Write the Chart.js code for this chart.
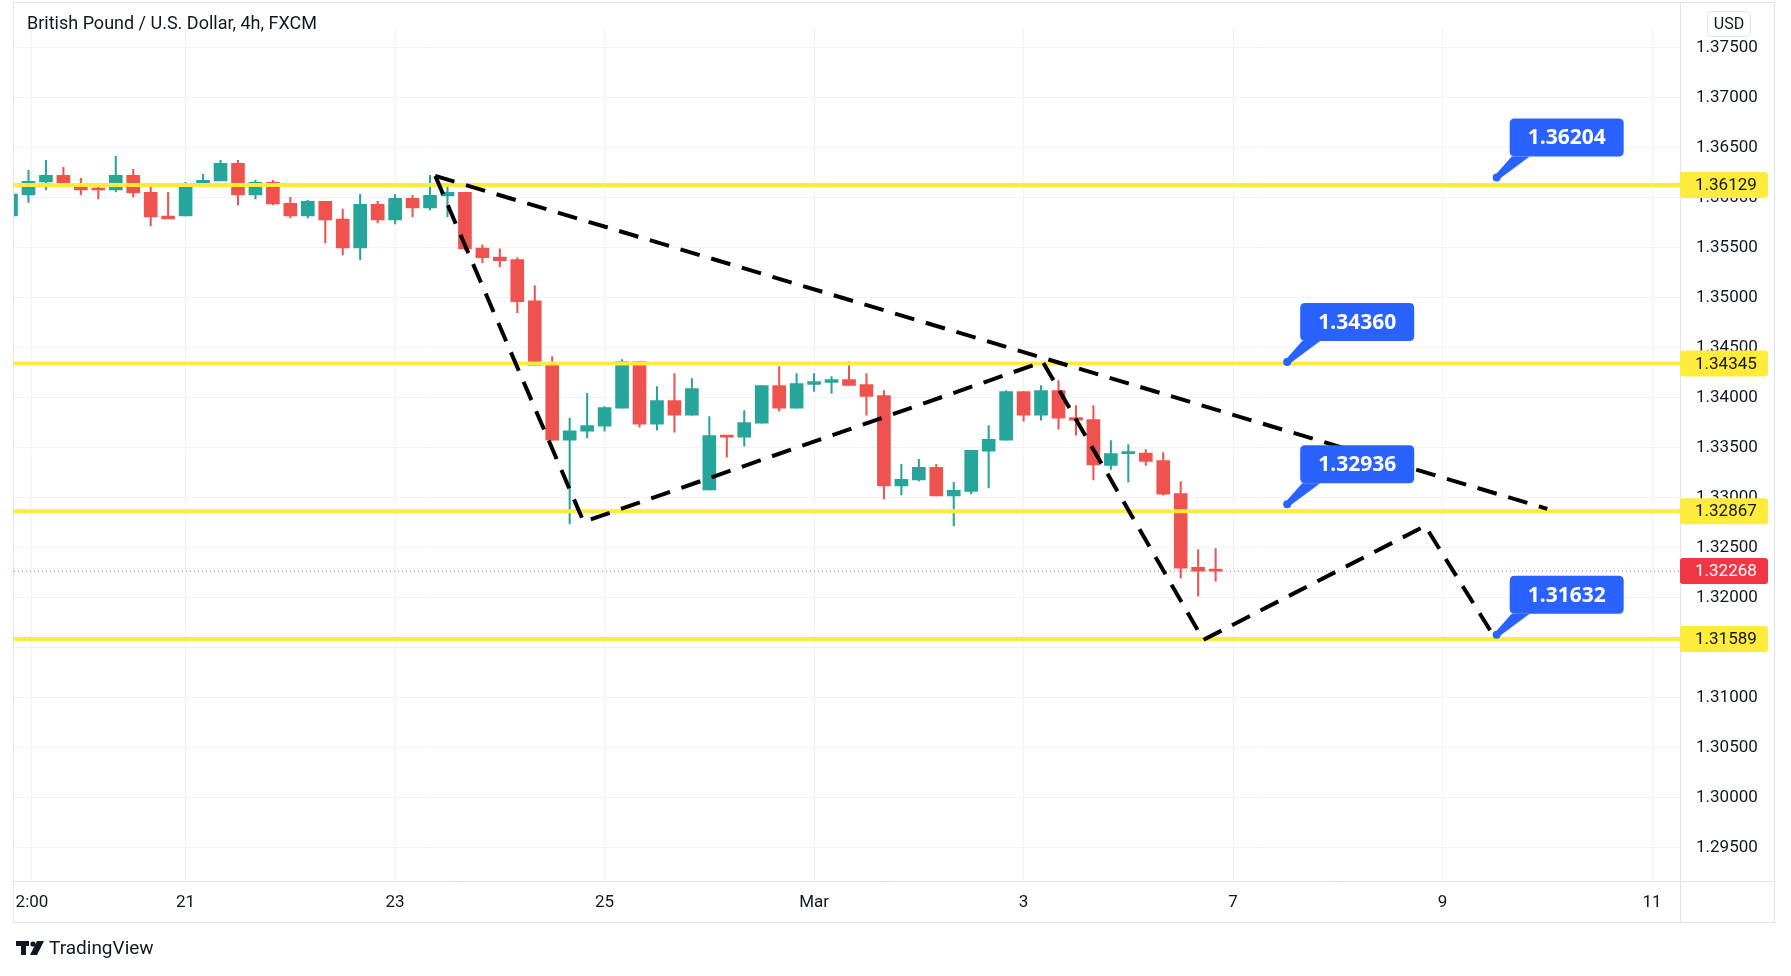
<!DOCTYPE html>
<html>
<head>
<meta charset="utf-8">
<script src="https://cdn.jsdelivr.net/npm/chart.js@4"></script>
<style>
html,body{margin:0;padding:0;background:#fff;}
#wrap{width:1791px;height:976px;position:relative;}
</style>
</head>
<body>
<div id="wrap"><canvas id="myChart1" width="1791" height="976"></canvas></div>
<script>
// 4h candles, GBP/USD
const opens  = [1.35820,1.36029,1.36159,1.36225,1.36146,1.36086,1.36079,1.36225,1.36056,1.35817,
                1.35820,1.36119,1.36169,1.36345,1.36029,1.36156,1.35946,1.35820,1.35966,1.35787,
                1.35501,1.35936,1.35780,1.35996,1.35900,1.36019,1.36056,1.35498,1.35408,1.35382,
                1.34970,1.34332,1.33578,1.33667,1.33717,1.33897,1.34362,1.33737,1.33973,1.33827,
                1.33080,1.33624,1.33608,1.33747,1.34122,1.33897,1.34136,1.34156,1.34182,1.34132,
                1.34023,1.33120,1.33179,1.33306,1.33020,1.33066,1.33468,1.33578,1.34063,1.33827,
                1.34073,1.33804,1.33784,1.33326,1.33443,1.33449,1.33373,1.33043,1.32305,1.32275];
const closes = [1.36039,1.36166,1.36225,1.36139,1.36079,1.36079,1.36225,1.36049,1.35810,1.35790,
                1.36126,1.36176,1.36345,1.36029,1.36156,1.35940,1.35820,1.35966,1.35780,1.35501,
                1.35936,1.35780,1.35996,1.35900,1.36026,1.36056,1.35491,1.35402,1.35372,1.34963,
                1.34325,1.33578,1.33671,1.33724,1.33903,1.34362,1.33737,1.33973,1.33827,1.34093,
                1.33624,1.33608,1.33754,1.34122,1.33897,1.34142,1.34162,1.34182,1.34126,1.34016,
                1.33120,1.33186,1.33306,1.33020,1.33076,1.33475,1.33585,1.34063,1.33827,1.34073,
                1.33797,1.33777,1.33329,1.33443,1.33449,1.33366,1.33037,1.32298,1.32268,1.32268];
const highs  = [1.36045,1.36275,1.36375,1.36305,1.36195,1.36126,1.36415,1.36285,1.36116,1.36056,
                1.36156,1.36235,1.36375,1.36375,1.36176,1.36176,1.36006,1.35976,1.35966,1.35887,
                1.36036,1.35966,1.36036,1.36026,1.36225,1.36126,1.36056,1.35531,1.35491,1.35402,
                1.35122,1.34412,1.33797,1.34046,1.33913,1.34382,1.34362,1.34113,1.34242,1.34192,
                1.33814,1.33624,1.33873,1.34122,1.34312,1.34242,1.34242,1.34212,1.34362,1.34242,
                1.34073,1.33335,1.33385,1.33335,1.33156,1.33475,1.33724,1.34073,1.34063,1.34122,
                1.34172,1.33923,1.33923,1.33573,1.33533,1.33483,1.33453,1.33163,1.32484,1.32494];
const lows   = [1.35815,1.35956,1.36079,1.36119,1.36029,1.35989,1.36059,1.36009,1.35720,1.35790,
                1.35820,1.36119,1.36169,1.35930,1.35989,1.35930,1.35800,1.35800,1.35551,1.35431,
                1.35382,1.35750,1.35740,1.35810,1.35880,1.35810,1.35481,1.35352,1.35312,1.34853,
                1.34325,1.33578,1.32740,1.33601,1.33668,1.33897,1.33707,1.33677,1.33658,1.33827,
                1.33080,1.33408,1.33518,1.33747,1.33867,1.33897,1.34066,1.34046,1.34126,1.33827,
                1.32990,1.33030,1.33169,1.33020,1.32721,1.33040,1.33100,1.33578,1.33767,1.33777,
                1.33687,1.33628,1.33179,1.33286,1.33157,1.33326,1.33027,1.32198,1.32018,1.32168];

const xTickPos    = [1.2, 10, 22, 34, 46, 58, 70, 82, 94];
const xTickLabels = ['2:00', '21', '23', '25', 'Mar', '3', '7', '9', '11'];
const yTicks = [1.295,1.300,1.305,1.310,1.315,1.320,1.325,1.330,1.335,1.340,1.345,1.350,1.355,1.360,1.365,1.370,1.375];

const levels = [1.36129, 1.34345, 1.32867, 1.31589];
const lastPrice = 1.32268;

// dashed pattern lines (candle index, price)
const zigzagX = [24.3, 32.8, 59.1, 68.3, 81.0, 85.0];
const zigzagY = [1.3622, 1.3276, 1.3436, 1.3158, 1.3272, 1.3160];
const trendX  = [24.3, 88.0];
const trendY  = [1.3622, 1.3289];

// callouts
const calloutX = [85.1, 73.1, 73.1, 85.1];
const calloutY = [1.36204, 1.34360, 1.32936, 1.31632];

const UP = '#26a69a', DOWN = '#ef5350', YEL = '#ffeb3b';
const X_MIN = 0.17, X_MAX = 95.6, Y_MIN = 1.29169, Y_MAX = 1.37717;

const colors = opens.map((o,i) => closes[i] >= o ? UP : DOWN);
const bodies = opens.map((o,i) => ({x: i, y: [o, closes[i]]}));
const wicks  = opens.map((o,i) => ({x: i, y: [lows[i], highs[i]]}));

let datasets = [];
datasets.push({type:'bar', data: wicks, backgroundColor: colors, barThickness: 1.4, grouped:false, order: 3, minBarLength: 1});
datasets.push({type:'bar', data: bodies, backgroundColor: colors, barThickness: 13, grouped:false, order: 2, minBarLength: 2});
datasets.push({type:'line', data: [{x:X_MIN,y:lastPrice},{x:X_MAX,y:lastPrice}], borderColor: DOWN, borderWidth: 1, borderDash:[1,3], pointRadius:0, order: 1});
for(var i=0;i<levels.length;i=i+1){
	datasets.push({type:'line', data: [{x:X_MIN,y:levels[i]},{x:X_MAX,y:levels[i]}], borderColor: YEL, borderWidth: 4, pointRadius:0, order: 1});
}
datasets.push({type:'line', data: zigzagX.map((x,i)=>({x:x,y:zigzagY[i]})), borderColor:'#000', borderWidth:4, borderDash:[20,12], pointRadius:0, order:0});
datasets.push({type:'line', data: trendX.map((x,i)=>({x:x,y:trendY[i]})), borderColor:'#000', borderWidth:4, borderDash:[20,12], pointRadius:0, order:0});

function roundRect(ctx, x, y, w, h, r){
	ctx.beginPath();
	ctx.moveTo(x+r,y); ctx.lineTo(x+w-r,y); ctx.quadraticCurveTo(x+w,y,x+w,y+r);
	ctx.lineTo(x+w,y+h-r); ctx.quadraticCurveTo(x+w,y+h,x+w-r,y+h);
	ctx.lineTo(x+r,y+h); ctx.quadraticCurveTo(x,y+h,x,y+h-r);
	ctx.lineTo(x,y+r); ctx.quadraticCurveTo(x,y,x+r,y);
	ctx.closePath();
}

const overlay = {
	id: 'overlay',
	afterDraw(chart){
		const ctx = chart.ctx, xs = chart.scales.x, ys = chart.scales.y, a = chart.chartArea;
		ctx.save();
		// frame
		ctx.strokeStyle = '#e0e3eb'; ctx.lineWidth = 1;
		ctx.strokeRect(a.left-0.5, 2.5, 1775-a.left, 920);
		ctx.beginPath(); ctx.moveTo(a.right+0.5, 2); ctx.lineTo(a.right+0.5, 922); ctx.stroke();
		ctx.beginPath(); ctx.moveTo(a.left, a.bottom+0.5); ctx.lineTo(1775, a.bottom+0.5); ctx.stroke();

		// callouts
		ctx.font = 'bold 21px "Open Sans", Roboto, sans-serif';
		for(var i=0;i<calloutX.length;i=i+1){
			let px = xs.getPixelForValue(calloutX[i]);
			let py = ys.getPixelForValue(calloutY[i]);
			let bx = px + 13, by = py - 21 - 38;
			ctx.fillStyle = '#2962ff';
			roundRect(ctx, bx, by, 114, 38, 5); ctx.fill();
			ctx.beginPath();
			ctx.moveTo(px-1, py-3); ctx.lineTo(bx+2, by+38); ctx.lineTo(bx+20, by+38); ctx.lineTo(px+2, py+2);
			ctx.closePath(); ctx.fill();
			ctx.beginPath(); ctx.arc(px, py, 4, 0, Math.PI*2); ctx.fill();
			ctx.fillStyle = '#fff'; ctx.textAlign = 'center'; ctx.textBaseline = 'middle';
			ctx.fillText(calloutY[i].toFixed(5), bx+57, by+20);
		}

		// price tags on axis
		ctx.font = '17px Roboto, sans-serif'; ctx.textAlign = 'left'; ctx.textBaseline = 'middle';
		let tags = levels.map(v => [v, YEL, '#131722']).concat([[lastPrice, '#f23645', '#fff']]);
		for(var j=0;j<tags.length;j=j+1){
			let py = ys.getPixelForValue(tags[j][0]);
			ctx.fillStyle = tags[j][1];
			roundRect(ctx, a.right, py-13, 88, 26, 3); ctx.fill();
			ctx.fillStyle = tags[j][2];
			ctx.fillText(tags[j][0].toFixed(5), a.right+15, py+1);
		}

		// USD box
		ctx.fillStyle = '#fff'; ctx.strokeStyle = '#e0e3eb';
		roundRect(ctx, 1707.5, 11.5, 43, 25, 5); ctx.fill(); ctx.stroke();
		ctx.fillStyle = '#131722'; ctx.textAlign = 'center'; ctx.font = '16px Roboto, sans-serif';
		ctx.fillText('USD', 1729, 24.5);

		// title
		ctx.textAlign = 'left'; ctx.font = '18px Roboto, sans-serif';
		ctx.fillText('British Pound / U.S. Dollar, 4h, FXCM', 27, 24);

		// TradingView mark
		ctx.fillStyle = '#131722';
		ctx.fillRect(16, 941, 13, 5); ctx.fillRect(21, 941, 5, 14);
		ctx.beginPath(); ctx.arc(33, 944, 2.6, 0, Math.PI*2); ctx.fill();
		ctx.beginPath(); ctx.moveTo(37, 941); ctx.lineTo(44, 941); ctx.lineTo(37, 955); ctx.lineTo(30, 955); ctx.closePath(); ctx.fill();
		ctx.font = '19px Roboto, sans-serif'; ctx.textBaseline = 'middle';
		ctx.fillText('TradingView', 49, 949);
		ctx.restore();
	}
};

new Chart(document.getElementById('myChart1'), {
	data: { datasets: datasets },
	options: {
		responsive: false,
		animation: false,
		layout: { padding: { left: 14, top: 2, right: 16, bottom: 54 } },
		plugins: { legend: { display: false }, tooltip: { enabled: false } },
		scales: {
			x: {
				type: 'linear', min: X_MIN, max: X_MAX, offset: false,
				afterBuildTicks: axis => { axis.ticks = xTickPos.map(v => ({value: v})); },
				afterFit: axis => { axis.height = 41; },
				grid: { color: '#f0f3fa', drawTicks: false, offset: false },
				border: { display: false },
				ticks: {
					autoSkip: false, maxRotation: 0, padding: 12,
					color: '#131722', font: { size: 17, family: 'Roboto' },
					callback: (v) => { let k = xTickPos.indexOf(v); return k >= 0 ? xTickLabels[k] : ''; }
				}
			},
			y: {
				position: 'right', min: Y_MIN, max: Y_MAX,
				afterBuildTicks: axis => { axis.ticks = yTicks.map(v => ({value: v})); },
				afterFit: axis => { axis.width = 95; },
				grid: { color: '#f0f3fa', drawTicks: false },
				border: { display: false },
				ticks: {
					padding: 16, color: '#131722', font: { size: 17, family: 'Roboto' },
					callback: v => Number(v).toFixed(5)
				}
			}
		}
	},
	plugins: [overlay]
});
</script>
</body>
</html>
